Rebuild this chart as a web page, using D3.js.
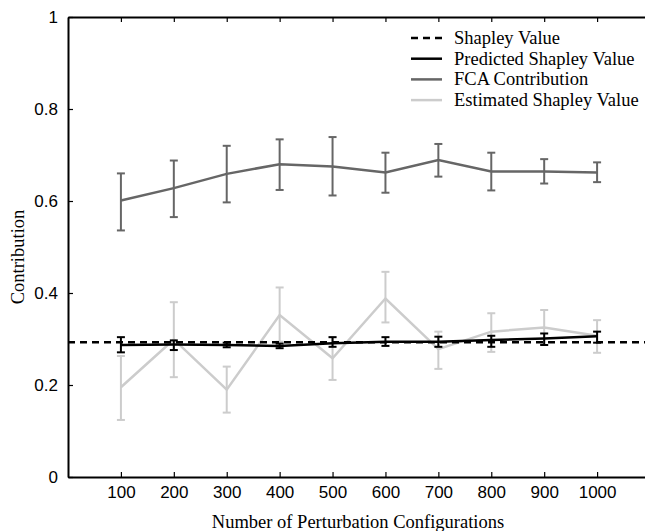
<!DOCTYPE html>
<html lang="en">
  <head>
    <meta charset="UTF-8" />
    <title>contribution</title>
    <style>
      body { margin: 0; background: #fff; }
      svg { display: block; }
      .tick text { font-family: "Liberation Sans", Arial, sans-serif; font-size: 17px; fill: #000; }
      .title { font-family: "Liberation Serif", "Times New Roman", serif; fill: #000; }
    </style>
  </head>
  <body>
    <div class="container"></div>
    <script src="https://d3js.org/d3.v7.min.js"></script>
    <script>
      // data
      const configs = [100, 200, 300, 400, 500, 600, 700, 800, 900, 1000];
      const shapley = 0.293;

      const predMean = [0.287, 0.288, 0.287, 0.285, 0.291, 0.294, 0.294, 0.298, 0.301, 0.306];
      const predLow = [0.271, 0.276, 0.282, 0.280, 0.283, 0.285, 0.283, 0.283, 0.287, 0.292];
      const predHigh = [0.304, 0.297, 0.292, 0.290, 0.304, 0.304, 0.305, 0.307, 0.312, 0.316];

      const fcaMean = [0.601, 0.628, 0.659, 0.680, 0.675, 0.662, 0.689, 0.664, 0.664, 0.662];
      const fcaLow = [0.536, 0.565, 0.597, 0.624, 0.612, 0.618, 0.653, 0.623, 0.638, 0.641];
      const fcaHigh = [0.660, 0.688, 0.720, 0.734, 0.739, 0.705, 0.724, 0.705, 0.691, 0.684];

      const estMean = [0.195, 0.299, 0.190, 0.352, 0.258, 0.388, 0.278, 0.316, 0.325, 0.307];
      const estLow = [0.124, 0.217, 0.140, 0.294, 0.211, 0.336, 0.235, 0.272, 0.287, 0.270];
      const estHigh = [0.263, 0.380, 0.240, 0.412, 0.304, 0.446, 0.316, 0.356, 0.363, 0.341];

      const yTicks = [0, 0.2, 0.4, 0.6, 0.8, 1];
      const legendNames = ["Shapley Value", "Predicted Shapley Value", "FCA Contribution", "Estimated Shapley Value"];

      // svg
      const W = 645, H = 531;
      const svg = d3.select(".container").append("svg").attr("width", W).attr("height", H);

      const x = d3.scaleLinear().domain([0, 1100]).range([68, 650]);
      const y = d3.scaleLinear().domain([0, 1]).range([477, 17]);

      // axes (ticks pointing inward)
      svg.append("g")
        .attr("transform", `translate(0,${y(0)})`)
        .call(d3.axisBottom(x).tickValues(configs).tickSizeInner(-5).tickSizeOuter(0).tickPadding(9).tickFormat(d3.format("d")))
        .call((g) => g.select(".domain").attr("stroke-width", 2));
      svg.append("g")
        .attr("transform", `translate(0,${y(1)})`)
        .call(d3.axisTop(x).tickValues(configs).tickSizeInner(-5).tickSizeOuter(0).tickFormat(""))
        .call((g) => g.select(".domain").attr("stroke-width", 2));
      svg.append("g")
        .attr("transform", `translate(${x(0)},0)`)
        .call(d3.axisLeft(y).tickValues(yTicks).tickSizeInner(-5).tickSizeOuter(0).tickPadding(10)
          .tickFormat((d) => (d === 0 || d === 1 ? d3.format("d")(d) : d3.format(".1f")(d))))
        .call((g) => g.select(".domain").attr("stroke-width", 2));
      svg.selectAll(".tick line").attr("stroke-width", 1.2);

      // series with error bars
      const series = [
        { mean: estMean, low: estLow, high: estHigh, color: "#cccccc" },
        { mean: fcaMean, low: fcaLow, high: fcaHigh, color: "#666666" },
        { mean: predMean, low: predLow, high: predHigh, color: "#000000" },
      ];
      const line = d3.line().x((d) => x(d[0])).y((d) => y(d[1]));

      series.forEach((s) => {
        const g = svg.append("g");
        g.append("path")
          .attr("d", line(configs.map((c, i) => [c, s.mean[i]])))
          .attr("fill", "none")
          .attr("stroke", s.color)
          .attr("stroke-width", 2.5);
        const bars = g.selectAll("g.err").data(configs).join("g").attr("class", "err");
        bars.append("line")
          .attr("x1", (d) => x(d)).attr("x2", (d) => x(d))
          .attr("y1", (d, i) => y(s.low[i])).attr("y2", (d, i) => y(s.high[i]))
          .attr("stroke", s.color).attr("stroke-width", 2);
        [s.low, s.high].forEach((arr) => {
          bars.append("line")
            .attr("x1", (d) => x(d) - 4).attr("x2", (d) => x(d) + 4)
            .attr("y1", (d, i) => y(arr[i])).attr("y2", (d, i) => y(arr[i]))
            .attr("stroke", s.color).attr("stroke-width", 2);
        });
      });

      // shapley dashed line
      svg.append("line")
        .attr("x1", x(0)).attr("x2", W)
        .attr("y1", y(shapley)).attr("y2", y(shapley))
        .attr("stroke", "#000").attr("stroke-width", 2.5)
        .attr("stroke-dasharray", "7,5");

      // legend
      const legendStyles = [
        { color: "#000", dash: "7,5" },
        { color: "#000", dash: null },
        { color: "#666", dash: null },
        { color: "#ccc", dash: null },
      ];
      const legend = svg.append("g");
      legendNames.forEach((name, i) => {
        const ly = 38 + i * 20.7;
        legend.append("line")
          .attr("x1", 411).attr("x2", 442).attr("y1", ly).attr("y2", ly)
          .attr("stroke", legendStyles[i].color).attr("stroke-width", 2.5)
          .attr("stroke-dasharray", legendStyles[i].dash);
        legend.append("text")
          .attr("class", "title")
          .attr("x", 454).attr("y", ly + 6)
          .attr("font-size", 18.5)
          .text(name);
      });

      // axis titles
      svg.append("text")
        .attr("class", "title")
        .attr("x", 358).attr("y", 528)
        .attr("text-anchor", "middle")
        .attr("font-size", 18.5)
        .text("Number of Perturbation Configurations");
      svg.append("text")
        .attr("class", "title")
        .attr("transform", "translate(24,257) rotate(-90)")
        .attr("text-anchor", "middle")
        .attr("font-size", 18.5)
        .text("Contribution");
    </script>
  </body>
</html>
